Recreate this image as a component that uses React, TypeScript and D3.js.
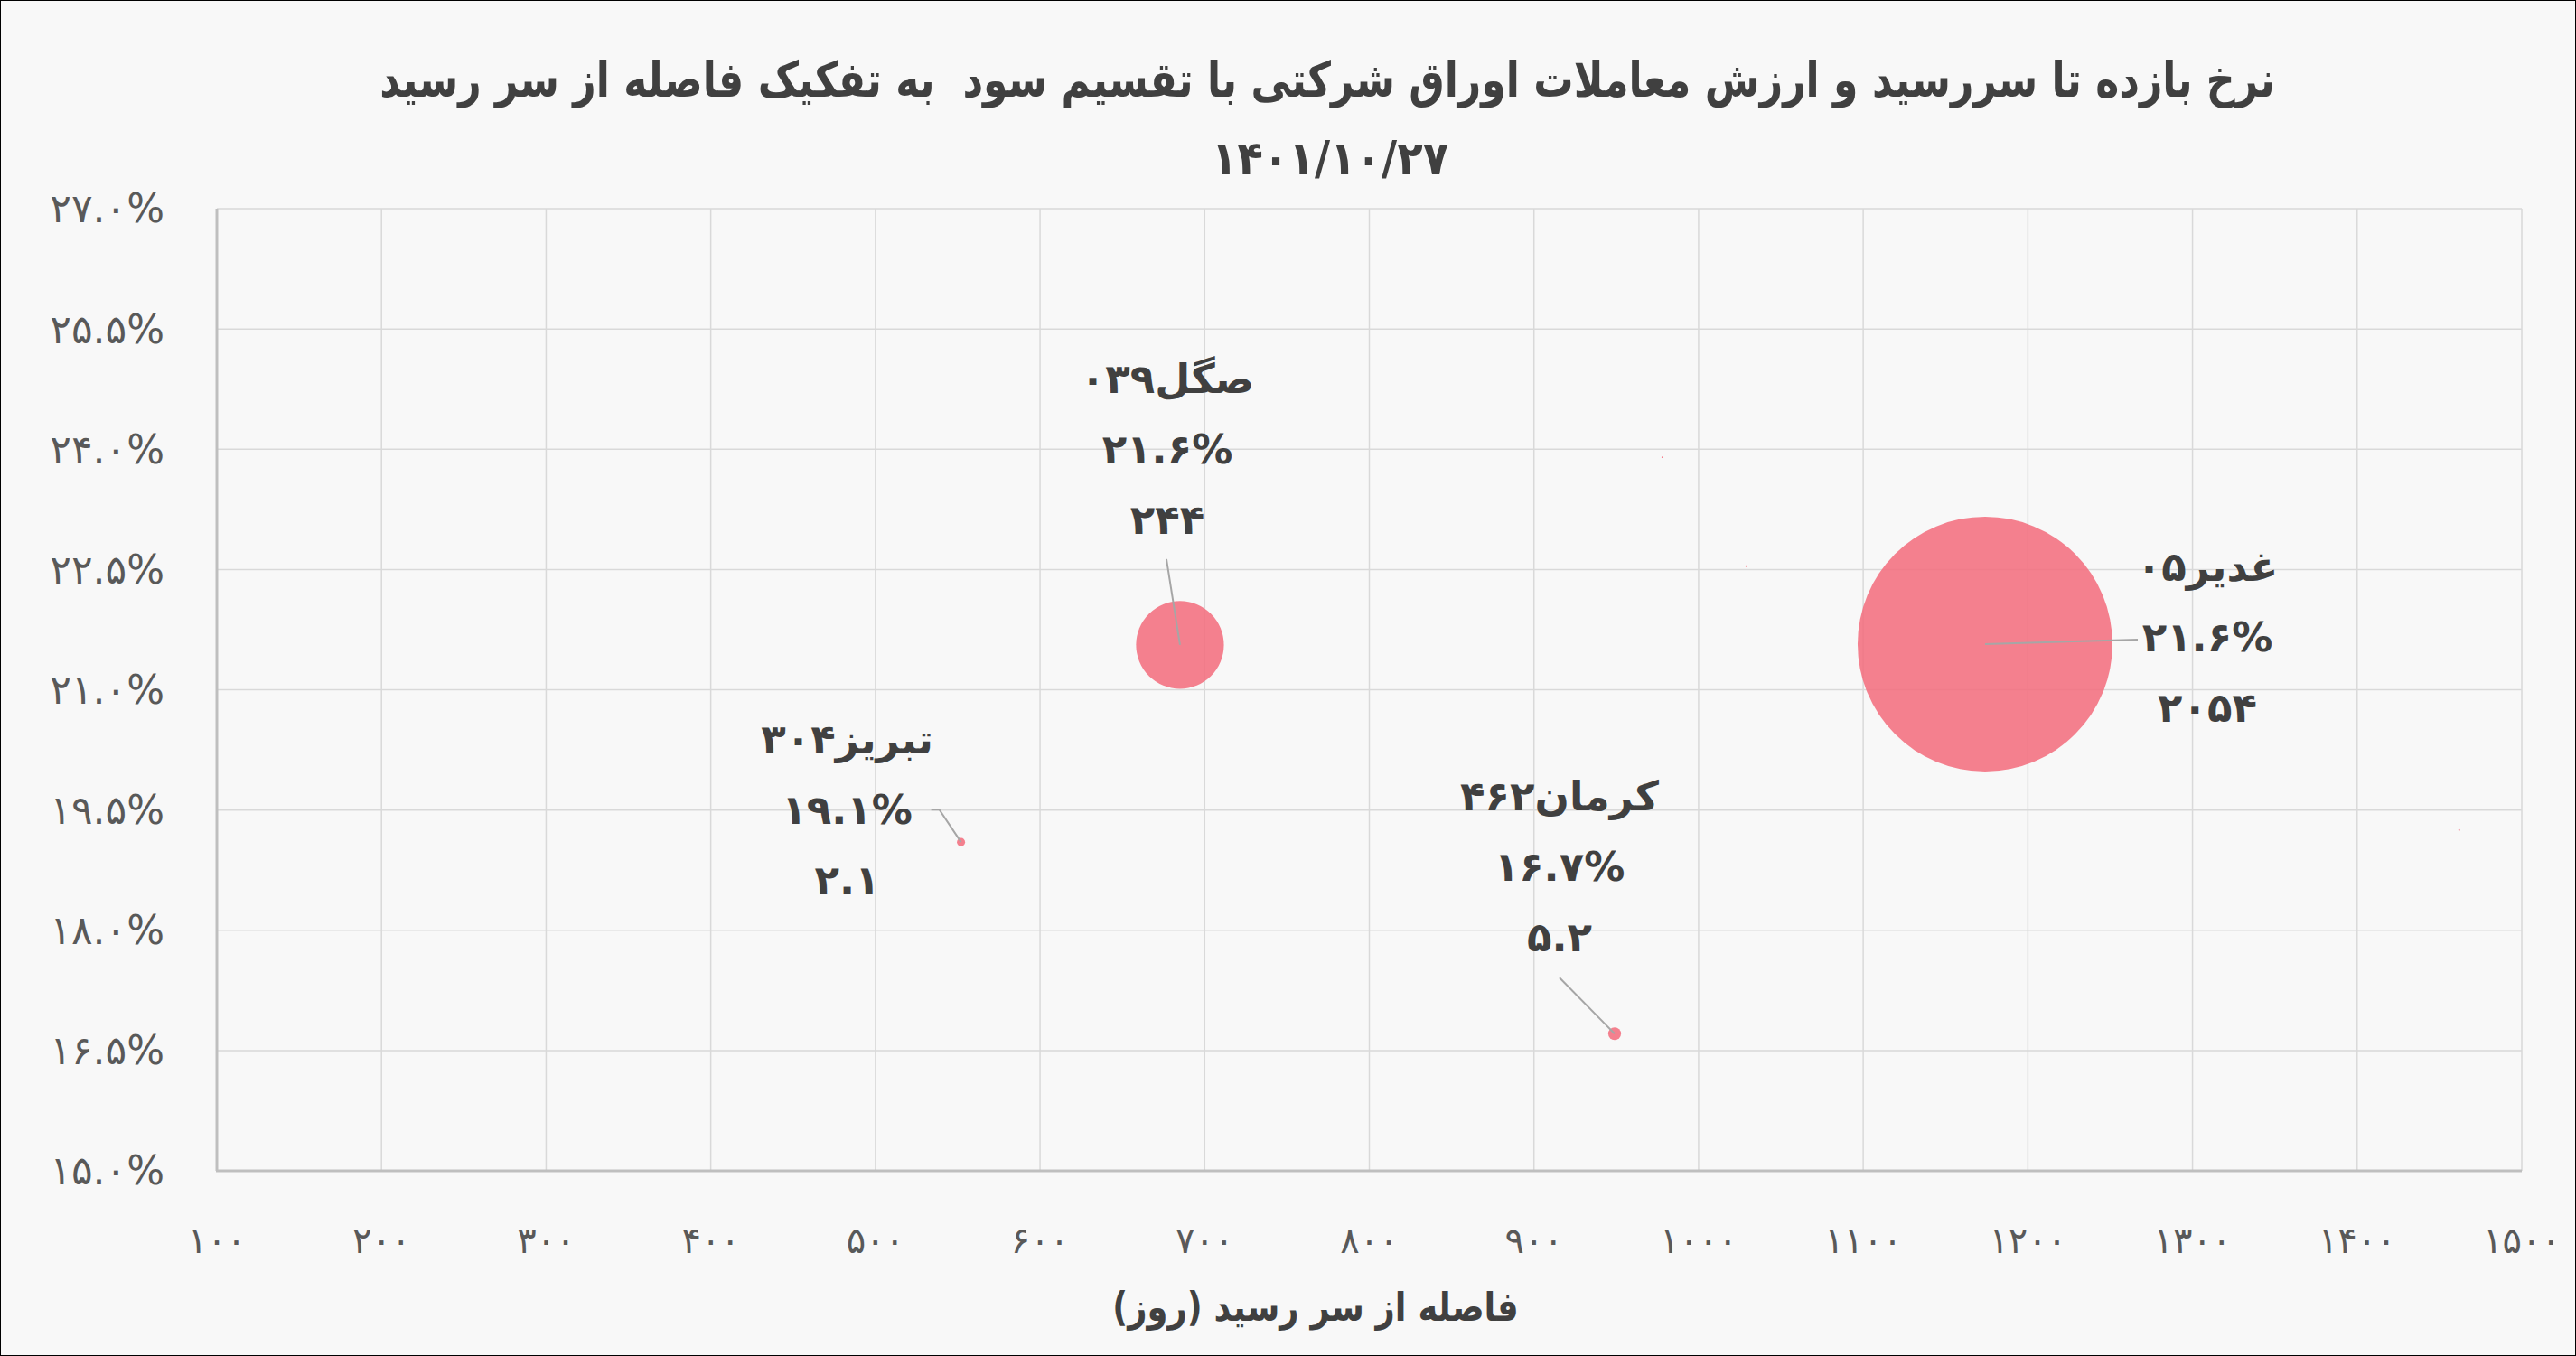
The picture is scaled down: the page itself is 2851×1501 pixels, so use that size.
import React, { useEffect, useRef } from 'react';
import * as d3 from 'd3';

// bubbles with labels
const names = ['صگل۰۳۹', 'غدیر۰۵', 'تبریز۳۰۴', 'کرمان۴۶۲'];
const daysToMaturity = [685, 1174, 552, 949];
const ytm = [21.56, 21.57, 19.1, 16.71];
const ytmLabel = [21.6, 21.6, 19.1, 16.7];
const tradeValue = [244, 2054, 2.1, 5.2];

// tiny bubbles without labels
const otherDays = [978, 1029, 1462];
const otherYtm = [23.9, 22.54, 19.25];
const otherValue = [0.1, 0.1, 0.1];

const xTicks = [100, 200, 300, 400, 500, 600, 700, 800, 900, 1000, 1100, 1200, 1300, 1400, 1500];
const yTicks = [15, 16.5, 18, 19.5, 21, 22.5, 24, 25.5, 27];

const title = 'نرخ بازده تا سررسید و ارزش معاملات اوراق شرکتی با تقسیم سود  به تفکیک فاصله از سر رسید';
const dateText = '۱۴۰۱/۱۰/۲۷';
const xTitle = 'فاصله از سر رسید (روز)';

// label placement relative to the bubble centre (dragged labels, like in excel)
const labelPos = [
  { dx: -14, dy: -279, leader: [[-15, -95]] },
  { dx: 246, dy: -70, leader: [[169, -5]] },
  { dx: -126, dy: -98, leader: [[-33, -36], [-24, -36]] },
  { dx: -61, dy: -247, leader: [[-61, -62]] },
];

const W = 2851;
const H = 1501;
const FONT = '"DejaVu Sans", sans-serif';

const fa = (s: string) => s.replace(/\d/g, d => '۰۱۲۳۴۵۶۷۸۹'[+d]);

function BubbleChart() {
  const svgRef = useRef<SVGSVGElement>(null);

  useEffect(() => {
    const svg = d3.select(svgRef.current);
    svg.selectAll('*').remove();

    const x = d3.scaleLinear().domain([100, 1500]).range([240, 2791]);
    const y = d3.scaleLinear().domain([15, 27]).range([1296, 231]);
    const r = d3.scaleSqrt().domain([0, 2054]).range([0, 141]);

    svg.append('rect')
      .attr('width', W).attr('height', H)
      .attr('fill', '#f8f8f8')
      .attr('stroke', '#000').attr('stroke-width', 2);

    // grid
    const grid = svg.append('g');
    grid.selectAll('.vg').data(xTicks).join('line')
      .attr('x1', d => x(d)).attr('x2', d => x(d))
      .attr('y1', y(27)).attr('y2', y(15))
      .attr('stroke', '#d9d9d9').attr('stroke-width', 1.5);
    grid.selectAll('.hg').data(yTicks).join('line')
      .attr('x1', x(100)).attr('x2', x(1500))
      .attr('y1', d => y(d)).attr('y2', d => y(d))
      .attr('stroke', '#d9d9d9').attr('stroke-width', 1.5);

    // axes lines
    svg.append('line')
      .attr('x1', x(100)).attr('x2', x(100)).attr('y1', y(27)).attr('y2', y(15))
      .attr('stroke', '#bfbfbf').attr('stroke-width', 3);
    svg.append('line')
      .attr('x1', x(100) - 1).attr('x2', x(1500)).attr('y1', y(15)).attr('y2', y(15))
      .attr('stroke', '#bfbfbf').attr('stroke-width', 3);

    // tick labels
    svg.append('g').selectAll('text').data(yTicks).join('text')
      .attr('x', 182).attr('y', d => y(d)).attr('dy', '0.35em')
      .attr('text-anchor', 'end')
      .attr('font-family', FONT).attr('font-size', 44).attr('fill', '#595959')
      .attr('direction', 'ltr')
      .text(d => fa(d3.format('.1f')(d)) + '%');

    svg.append('g').selectAll('text').data(xTicks).join('text')
      .attr('x', d => x(d)).attr('y', 1387)
      .attr('text-anchor', 'middle')
      .attr('font-family', FONT).attr('font-size', 40).attr('fill', '#595959')
      .attr('direction', 'ltr')
      .text(d => fa(String(d)));

    // titles (the original font is condensed, so squeeze horizontally)
    svg.append('text')
      .attr('transform', 'translate(1469,107) scale(0.818,1)')
      .attr('text-anchor', 'middle').attr('direction', 'rtl')
      .attr('font-family', FONT).attr('font-weight', 'bold').attr('font-size', 54)
      .attr('fill', '#404040')
      .style('white-space', 'pre')
      .text(title);
    svg.append('text')
      .attr('transform', 'translate(1472,193) scale(0.9,1)')
      .attr('text-anchor', 'middle').attr('direction', 'ltr')
      .attr('font-family', FONT).attr('font-weight', 'bold').attr('font-size', 52)
      .attr('fill', '#404040')
      .text(dateText);
    svg.append('text')
      .attr('transform', 'translate(1456,1462) scale(0.84,1)')
      .attr('text-anchor', 'middle').attr('direction', 'rtl')
      .attr('font-family', FONT).attr('font-weight', 'bold').attr('font-size', 44)
      .attr('fill', '#404040')
      .text(xTitle);

    // bubbles, biggest first
    const fill = 'rgb(243,107,123)';
    const bubbles = names.map((n, i) => ({
      n, d: daysToMaturity[i], v: ytm[i], s: tradeValue[i], lab: ytmLabel[i], pos: labelPos[i],
    }));
    const others = otherDays.map((d, i) => ({ d, v: otherYtm[i], s: otherValue[i] }));

    svg.append('g').selectAll('circle')
      .data([...bubbles, ...others].sort((a, b) => b.s - a.s))
      .join('circle')
      .attr('cx', d => x(d.d)).attr('cy', d => y(d.v)).attr('r', d => r(d.s))
      .attr('fill', fill).attr('fill-opacity', 0.85);

    // leader lines
    svg.append('g').selectAll('path').data(bubbles).join('path')
      .attr('d', d => {
        const cx = x(d.d);
        const cy = y(d.v);
        const pts = d.pos.leader.map(([a, b]) => [cx + a, cy + b]);
        return d3.line()([...pts, [cx, cy]] as [number, number][]);
      })
      .attr('fill', 'none').attr('stroke', '#a6a6a6').attr('stroke-width', 2);

    // data labels
    const lab = svg.append('g').selectAll('text').data(bubbles).join('text')
      .attr('font-family', FONT).attr('font-weight', 'bold').attr('font-size', 45)
      .attr('fill', '#404040').attr('text-anchor', 'middle');
    lab.each(function (d) {
      const t = d3.select(this);
      const lx = x(d.d) + d.pos.dx;
      const ly = y(d.v) + d.pos.dy;
      const lines = [d.n, fa(d3.format('.1f')(d.lab)) + '%', fa(String(d.s))];
      lines.forEach((s, k) => {
        t.append('tspan')
          .attr('x', lx).attr('y', ly + k * 78)
          .attr('direction', k === 0 ? 'rtl' : 'ltr')
          .text(s);
      });
    });
  }, []);

  return <svg ref={svgRef} width={W} height={H} style={{ position: 'absolute', left: 0, top: 0, display: 'block' }} />;
}

export default function App() {
  return <BubbleChart />;
}
